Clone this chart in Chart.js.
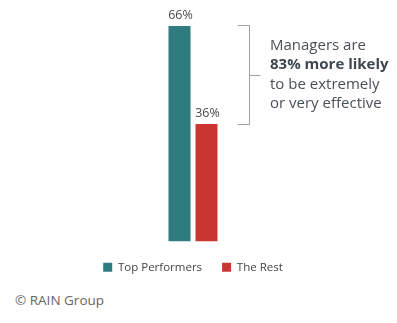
<!DOCTYPE html>
<html>
<head>
<meta charset="utf-8">
<script src="https://cdn.jsdelivr.net/npm/chart.js@4.4.1/dist/chart.umd.min.js"></script>
<style>
  body { margin: 0; background: #fff; font-family: "Open Sans", sans-serif; }
  #wrap { position: relative; width: 397px; height: 323px; overflow: hidden; }
  #chartBox { position: absolute; left: 63px; top: 0; width: 260px; height: 289px; }
  #note { position: absolute; left: 270px; top: 34.5px; font-size: 15px; line-height: 19.6px; color: #4a5058; white-space: nowrap; }
  #note b { font-weight: 700; color: #3f4650; }
  #credit { position: absolute; left: 15px; top: 291px; font-size: 13.5px; color: #666; }
</style>
</head>
<body>
<div id="wrap">
  <div id="chartBox"><canvas id="barChart"></canvas></div>
  <div id="note">Managers are<br><b>83% more likely</b><br>to be extremely<br>or very effective</div>
  <div id="credit">© RAIN Group</div>
</div>
<script>
// --- DATA ---
const groups = ["Managers"];
const seriesNames = ["Top Performers", "The Rest"];
const topPerformers = [66];
const theRest = [36];
const seriesColors = ["#2e7c7f", "#c93632"];

// value labels above each bar
const valueLabels = {
    id: "valueLabels",
    afterDatasetsDraw(chart) {
        const ctx = chart.ctx;
        ctx.save();
        ctx.font = "12.5px 'Open Sans'";
        ctx.fillStyle = "#4a4a4a";
        ctx.textAlign = "center";
        ctx.textBaseline = "alphabetic";
        chart.data.datasets.forEach((ds, i) => {
            chart.getDatasetMeta(i).data.forEach((bar, j) => {
                ctx.fillText(ds.data[j] + "%", bar.x + 1, bar.y - 7);
            });
        });
        ctx.restore();
    }
};

// bracket joining the two bar tops
const bracket = {
    id: "bracket",
    afterDraw(chart) {
        const ctx = chart.ctx;
        const y = chart.scales.y;
        const top = Math.round(y.getPixelForValue(topPerformers[0])) - 0.5;
        const bot = Math.round(y.getPixelForValue(theRest[0])) + 0.5;
        const x = 186.5;
        ctx.save();
        ctx.strokeStyle = "#a0a0a0";
        ctx.lineWidth = 1;
        ctx.beginPath();
        ctx.moveTo(x - 12, top); ctx.lineTo(x, top); ctx.lineTo(x, bot); ctx.lineTo(x - 12, bot);
        const mid = Math.round((top + bot) / 2) + 0.5;
        ctx.moveTo(x, mid); ctx.lineTo(x + 11, mid);
        ctx.stroke();
        ctx.restore();
    }
};

new Chart(document.getElementById("barChart"), {
    type: "bar",
    data: {
        labels: groups,
        datasets: [
            { label: seriesNames[0], data: topPerformers, backgroundColor: seriesColors[0] },
            { label: seriesNames[1], data: theRest, backgroundColor: seriesColors[1] }
        ]
    },
    options: {
        responsive: true,
        maintainAspectRatio: false,
        animation: false,
        categoryPercentage: 0.2077,
        barPercentage: 0.815,
        layout: { padding: { left: 0, right: 0, top: 0, bottom: 6 } },
        plugins: {
            tooltip: { enabled: false },
            legend: {
                position: "bottom",
                labels: {
                    boxWidth: 9,
                    boxHeight: 9,
                    padding: 20,
                    color: "#444",
                    font: { family: "'Open Sans'", size: 11.5 }
                }
            }
        },
        scales: {
            x: { display: false },
            y: { display: false, min: 0, max: 74 }
        }
    },
    plugins: [valueLabels, bracket]
});
</script>
</body>
</html>
